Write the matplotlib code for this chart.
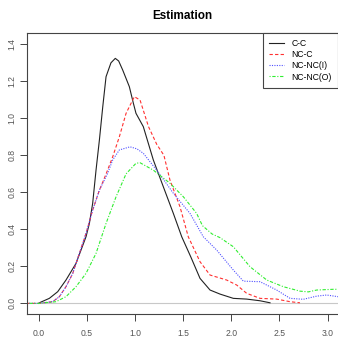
import numpy as np
import matplotlib.pyplot as plt
from matplotlib import rcParams

rcParams['font.family'] = ['Liberation Sans', 'DejaVu Sans']
rcParams['font.size'] = 6.2
rcParams['axes.linewidth'] = 0.8
rcParams['axes.edgecolor'] = '#444444'
rcParams['xtick.color'] = '#444444'
rcParams['ytick.color'] = '#444444'
rcParams['xtick.labelcolor'] = '#555555'
rcParams['ytick.labelcolor'] = '#555555'

# C-C
x_cc = [0.0, 0.006, 0.11, 0.197, 0.283, 0.387, 0.491, 0.526, 0.56, 0.595, 0.63, 0.665,
        0.699, 0.75, 0.795, 0.83, 0.872, 0.941, 0.983, 1.01, 1.086, 1.19, 1.294, 1.398,
        1.485, 1.58, 1.675, 1.779, 1.883, 2.021, 2.16, 2.298, 2.402]
y_cc = [0.0, 0.003, 0.027, 0.063, 0.126, 0.216, 0.36, 0.432, 0.54, 0.72, 0.883, 1.063,
        1.225, 1.30, 1.324, 1.31, 1.261, 1.171, 1.081, 1.027, 0.955, 0.775, 0.63, 0.486,
        0.36, 0.25, 0.135, 0.072, 0.05, 0.027, 0.023, 0.014, 0.003]

# NC-C
x_ncc = [-0.125, 0.0, 0.145, 0.214, 0.283, 0.353, 0.422, 0.491, 0.56, 0.63, 0.70, 0.768,
         0.837, 0.907, 0.993, 1.052, 1.14, 1.225, 1.30, 1.363, 1.467, 1.553, 1.675, 1.779,
         1.952, 2.056, 2.16, 2.298, 2.471, 2.61, 2.713]
y_ncc = [0.0, 0.0, 0.009, 0.036, 0.09, 0.162, 0.27, 0.378, 0.504, 0.612, 0.70, 0.792,
         0.90, 1.027, 1.117, 1.099, 0.955, 0.86, 0.80, 0.666, 0.522, 0.36, 0.225, 0.153,
         0.126, 0.099, 0.054, 0.027, 0.023, 0.009, 0.003]

# NC-NC(I)
x_nci = [-0.125, 0.0, 0.145, 0.214, 0.283, 0.353, 0.422, 0.491, 0.56, 0.63, 0.716, 0.768,
         0.837, 0.948, 1.02, 1.086, 1.225, 1.398, 1.571, 1.709, 1.848, 2.021, 2.125, 2.298,
         2.471, 2.61, 2.748, 2.887, 2.99, 3.108]
y_nci = [0.0, 0.0, 0.009, 0.036, 0.09, 0.162, 0.27, 0.378, 0.504, 0.612, 0.703, 0.775,
         0.829, 0.846, 0.835, 0.811, 0.72, 0.595, 0.486, 0.36, 0.288, 0.18, 0.12, 0.117,
         0.072, 0.027, 0.022, 0.039, 0.045, 0.036]

# NC-NC(O)
x_nco = [-0.125, 0.0, 0.18, 0.283, 0.387, 0.491, 0.595, 0.699, 0.803, 0.907, 1.01, 1.052,
         1.19, 1.363, 1.502, 1.64, 1.70, 1.80, 1.883, 2.021, 2.194, 2.368, 2.54, 2.713,
         2.80, 2.887, 3.06, 3.108]
y_nco = [0.0, 0.0, 0.009, 0.036, 0.09, 0.162, 0.27, 0.432, 0.576, 0.70, 0.757, 0.76,
         0.72, 0.649, 0.576, 0.486, 0.42, 0.375, 0.355, 0.306, 0.198, 0.126, 0.09, 0.066,
         0.062, 0.072, 0.076, 0.076]

fig = plt.figure(figsize=(3.38, 3.37), dpi=100)
ax = fig.add_axes([0.079, 0.068, 0.921, 0.834])

ax.axhline(0, color='#c8c8c8', lw=0.8, zorder=0)
ax.plot(x_cc, y_cc, color='#222222', lw=0.8, ls='-', label='C-C')
ax.plot(x_ncc, y_ncc, color='#ff3030', lw=0.8, ls=(0, (3, 2)), label='NC-C')
ax.plot(x_nci, y_nci, color='#5050ff', lw=0.8, ls=(0, (1, 1.2)), label='NC-NC(I)')
ax.plot(x_nco, y_nco, color='#30ee30', lw=0.8, ls=(0, (1, 1.5, 3, 1.5)), label='NC-NC(O)')

ax.set_xlim(-0.125, 3.108)
ax.set_ylim(-0.058, 1.461)
ax.spines['right'].set_visible(False)
ax.set_xticks(np.arange(0, 3.01, 0.5))
ax.set_yticks(np.arange(0, 1.41, 0.2))
ax.set_xticklabels(['%.1f' % v for v in np.arange(0, 3.01, 0.5)])
ax.set_yticklabels(['%.1f' % v for v in np.arange(0, 1.41, 0.2)], rotation=90, va='center')
ax.tick_params(direction='out', length=5, width=0.7)
ax.tick_params(axis='x', pad=6)
ax.tick_params(axis='y', pad=2.5)

ax.set_title('Estimation', fontsize=8.5, fontweight='bold', pad=10)

leg = ax.legend(loc='upper right', borderaxespad=0, fancybox=False, edgecolor='#444444',
                fontsize=6.2, handlelength=1.75, handletextpad=0.9, labelspacing=0.25,
                borderpad=0.7, framealpha=1)
leg.get_frame().set_linewidth(0.8)

fig.savefig('out.png', dpi=100)
